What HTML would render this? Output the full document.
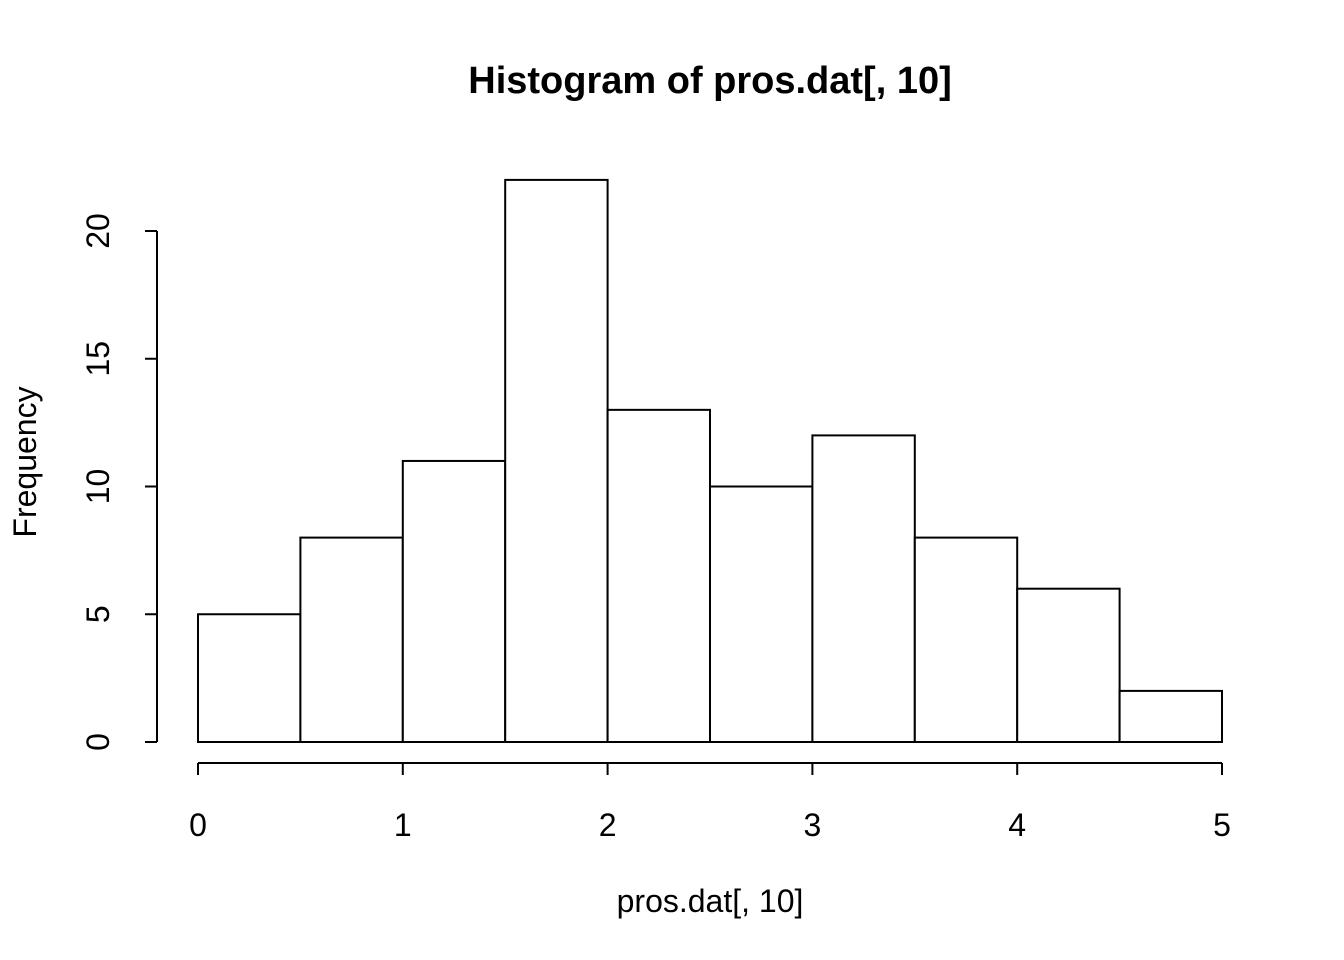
<!DOCTYPE html>
<html><head><meta charset="utf-8"><style>body{margin:0;background:#fff}svg{display:block}text{font-family:"Liberation Sans",Arial,sans-serif;fill:#000}</style></head>
<body>
<svg width="1344" height="960" viewBox="0 0 1344 960">
<text x="710" y="93" text-anchor="middle" font-size="38" font-weight="bold">Histogram of pros.dat[, 10]</text>
<text x="710" y="912" text-anchor="middle" font-size="32">pros.dat[, 10]</text>
<text transform="translate(36,462) rotate(-90)" text-anchor="middle" font-size="32">Frequency</text>
<g id="bars"></g>
<g id="xaxis"></g>
<g id="yaxis"></g>
</svg>
<script>
const binEdges=[0,0.5,1,1.5,2,2.5,3,3.5,4,4.5,5];
const counts=[5,8,11,22,13,10,12,8,6,2];
const xTicks=[0,1,2,3,4,5];
const yTicks=[0,5,10,15,20];
const NS="http://www.w3.org/2000/svg";
const xs=v=>198+v*204.8;
const ys=v=>742-v*25.55;
function mk(tag,attrs,parent){const e=document.createElementNS(NS,tag);for(const k in attrs)e.setAttribute(k,attrs[k]);parent.appendChild(e);return e;}
const bars=document.getElementById('bars');
counts.forEach((c,i)=>{
 const r=mk('rect',{x:xs(binEdges[i]),y:ys(c),width:xs(binEdges[i+1])-xs(binEdges[i]),height:ys(0)-ys(c),fill:'#fff',stroke:'#000','stroke-width':2},bars);
 
 
});
const xa=document.getElementById('xaxis');
mk('line',{x1:xs(xTicks[0]),x2:xs(xTicks[xTicks.length-1]),y1:763,y2:763,stroke:'#000','stroke-width':2},xa);
xTicks.forEach(t=>{
 mk('line',{x1:xs(t),x2:xs(t),y1:763,y2:775,stroke:'#000','stroke-width':2},xa);
 const tx=mk('text',{x:xs(t),y:836,'text-anchor':'middle','font-size':32},xa);
 tx.textContent=t;
 
 
});
const ya=document.getElementById('yaxis');
mk('line',{x1:157,x2:157,y1:ys(yTicks[0]),y2:ys(yTicks[yTicks.length-1]),stroke:'#000','stroke-width':2},ya);
yTicks.forEach(t=>{
 mk('line',{x1:145,x2:157,y1:ys(t),y2:ys(t),stroke:'#000','stroke-width':2},ya);
 const tx=mk('text',{transform:`translate(109,${ys(t)}) rotate(-90)`,'text-anchor':'middle','font-size':32},ya);
 tx.textContent=t;
 
 
});
</script>
</body></html>
